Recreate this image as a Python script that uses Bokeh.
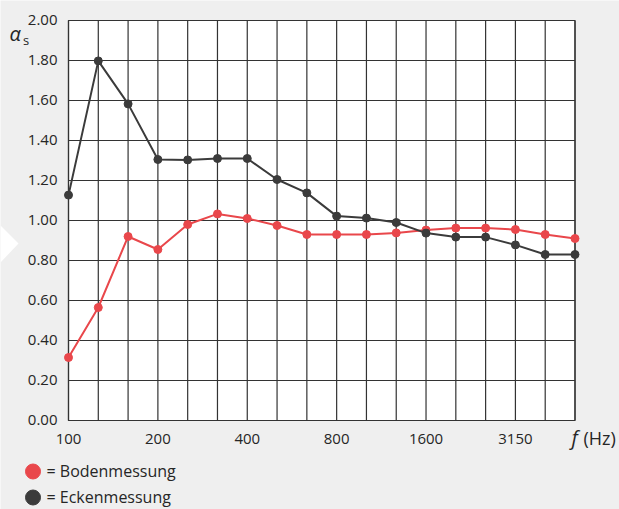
from bokeh.plotting import figure
from bokeh.models import Range1d
from bokeh.core.properties import value
from bokeh.embed import file_html
from bokeh.resources import INLINE

# ---------------- data ----------------
freq_labels = ["100", "125", "160", "200", "250", "315", "400", "500", "630",
               "800", "1000", "1250", "1600", "2000", "2500", "3150", "4000", "5000"]
shown_labels = ["100", "200", "400", "800", "1600", "3150"]
boden = [0.315, 0.565, 0.92, 0.855, 0.98, 1.033, 1.01, 0.975, 0.93,
         0.93, 0.93, 0.938, 0.952, 0.962, 0.962, 0.955, 0.93, 0.91]
ecken = [1.127, 1.798, 1.583, 1.305, 1.303, 1.31, 1.31, 1.205, 1.138,
         1.022, 1.012, 0.99, 0.937, 0.917, 0.917, 0.878, 0.83, 0.83]
y_ticks = [0.0, 0.2, 0.4, 0.6, 0.8, 1.0, 1.2, 1.4, 1.6, 1.8, 2.0]
series_names = ["= Bodenmessung", "= Eckenmessung"]

# ---------------- style / layout ----------------
BG = "#efefef"
GRID = "#333333"
RED = "#e9474b"
DARK = "#3b3b3b"
TXT = "#262626"
FONT = value("Open Sans")
FS = "15px"
TSHIFT = 6  # px correction for text baseline placement

W, H = 619, 509
# plot area (data box) in page pixels
PX_L, PX_R, PX_T, PX_B = 68.0, 574.5, 20.0, 420.0

x_idx = list(range(len(freq_labels)))
XMAX = x_idx[-1]
YMIN, YMAX = y_ticks[0], y_ticks[-1]
sx = (PX_R - PX_L) / (XMAX - 0)          # px per x unit
sy = (PX_B - PX_T) / (YMAX - YMIN)       # px per y unit
X0, X1 = -PX_L / sx, XMAX + (W - PX_R) / sx
Y0, Y1 = YMIN - (H - PX_B) / sy, YMAX + PX_T / sy

def dx(px):
    return X0 + px / sx

def dy(py):
    return Y1 - py / sy

def ty(py):
    """data y for a text baseline at page pixel py"""
    return dy(py - TSHIFT)

p = figure(width=W, height=H, output_backend="svg", toolbar_location=None,
           x_range=Range1d(X0, X1), y_range=Range1d(Y0, Y1),
           x_axis_location=None, y_axis_location=None,
           min_border=0, min_border_left=0, min_border_right=0,
           min_border_top=0, min_border_bottom=0,
           background_fill_color=BG, border_fill_color=BG, outline_line_color=None)
p.grid.visible = False

# decoration arrow on the left
p.patch([dx(0), dx(18), dx(0)], [dy(225), dy(243), dy(262)],
        fill_color="white", line_color=None)

# white plotting area
p.quad(left=[0], right=[XMAX], bottom=[YMIN], top=[YMAX],
       fill_color="white", line_color=GRID, line_width=1.2)

# grid lines
n = len(y_ticks)
p.segment(x0=[0] * n, y0=y_ticks, x1=[XMAX] * n, y1=y_ticks,
          line_color=GRID, line_width=1.2)
m = len(x_idx)
p.segment(x0=x_idx, y0=[YMIN] * m, x1=x_idx, y1=[YMAX] * m,
          line_color=GRID, line_width=1.2)

# tick labels
ylab = ["%.2f" % t for t in y_ticks]
p.text(x=[dx(57)] * n, y=[t - (5 - TSHIFT) / sy for t in y_ticks], text=ylab,
       text_font=FONT, text_font_size=FS, text_color=TXT,
       text_align="right", text_baseline="alphabetic")
xl_pos = [freq_labels.index(s) for s in shown_labels]
p.text(x=xl_pos, y=[ty(444)] * len(xl_pos), text=shown_labels,
       text_font=FONT, text_font_size=FS, text_color=TXT,
       text_align="center", text_baseline="alphabetic")

# series
p.line(x_idx, boden, line_color=RED, line_width=2)
p.scatter(x_idx, boden, size=8, fill_color=RED, line_color=RED)
p.line(x_idx, ecken, line_color=DARK, line_width=2)
p.scatter(x_idx, ecken, size=8, fill_color=DARK, line_color=DARK)

# axis titles
p.text(x=[dx(9)], y=[ty(39)], text=["α"], text_font=FONT, text_font_style="italic",
       text_font_size="20px", text_color=TXT, text_baseline="alphabetic")
p.text(x=[dx(22.5)], y=[ty(45)], text=["s"], text_font=FONT,
       text_font_size="13px", text_color=TXT, text_baseline="alphabetic")
p.text(x=[dx(571)], y=[ty(443)], text=["f"], text_font=FONT, text_font_style="italic",
       text_font_size="20px", text_color=TXT, text_baseline="alphabetic")
p.text(x=[dx(583)], y=[ty(443)], text=["(Hz)"], text_font=FONT,
       text_font_size="18px", text_color=TXT, text_baseline="alphabetic")

# legend
legend_colors = [RED, DARK]
legend_rows = [471, 497]
p.scatter(x=[dx(32.5)] * 2, y=[dy(r) for r in legend_rows], size=15,
          fill_color=legend_colors, line_color=legend_colors)
p.text(x=[dx(46)] * 2, y=[ty(r + 5.5) for r in legend_rows], text=series_names,
       text_font=FONT, text_font_size="16px", text_color=TXT, text_baseline="alphabetic")

open("out.html", "w").write(file_html(p, INLINE))
